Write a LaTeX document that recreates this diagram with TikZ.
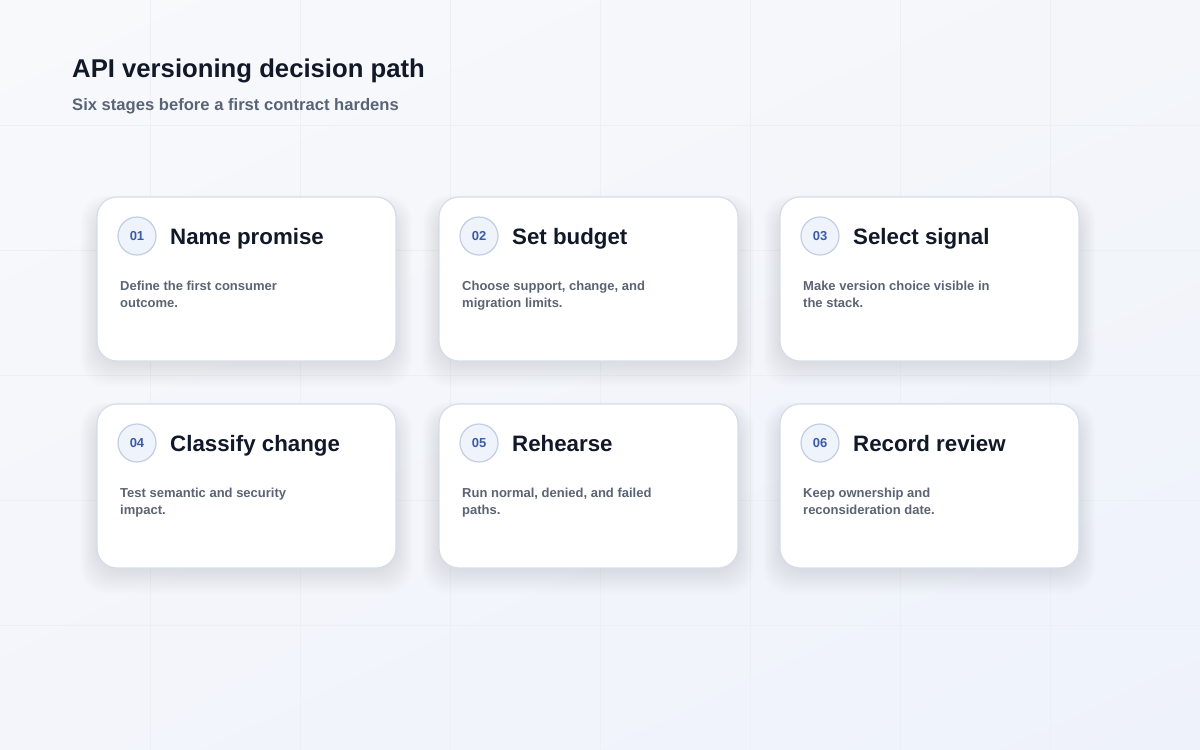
\documentclass[tikz,border=0pt]{standalone}
\usepackage{fontspec}
\setmainfont{Liberation Sans}
\usetikzlibrary{positioning,shadings}
\definecolor{bgtl}{HTML}{F8F9FB}
\definecolor{bgtr}{HTML}{F4F6FA}
\definecolor{bgbl}{HTML}{F3F5FB}
\definecolor{bgbr}{HTML}{EEF2FB}
\definecolor{gridc}{HTML}{ECEFF4}
\definecolor{titletext}{HTML}{111827}
\definecolor{subtext}{HTML}{5A6477}
\definecolor{cardline}{HTML}{D5DDEA}
\definecolor{shadowc}{HTML}{2A3550}
\definecolor{badgefill}{HTML}{EEF3FC}
\definecolor{badgeline}{HTML}{C2CEE3}
\definecolor{badgetext}{HTML}{3B5BA9}
\definecolor{desctext}{HTML}{5B6474}
\tikzset{
  card/.style={draw=cardline, line width=1.2pt, fill=white, rounded corners=20pt,
    minimum width=299pt, minimum height=164pt, inner sep=0pt},
  badge/.style={circle, draw=badgeline, line width=1.2pt, fill=badgefill,
    minimum size=38pt, inner sep=0pt, text=badgetext,
    font=\bfseries\fontsize{13}{13}\selectfont},
  head/.style={anchor=base west, inner sep=0pt, text=titletext,
    font=\bfseries\fontsize{22.3}{26}\selectfont},
  desc/.style={anchor=north west, inner sep=0pt, align=left, text=desctext,
    font=\bfseries\fontsize{13}{17}\selectfont},
  gridline/.style={draw=gridc, line width=0.7pt}
}
\begin{document}
\begin{tikzpicture}[x=1pt,y=-1pt]
        \useasboundingbox (0,0) rectangle (1200,750);
        %% background
        \shade[upper left=bgtl, upper right=bgtr, lower left=bgbl, lower right=bgbr]
          (0,0) rectangle (1200,750);
        \foreach \gx in {150,300,...,1050} \draw[gridline] (\gx,0) -- (\gx,750);
        \foreach \gy in {125,250,...,625} \draw[gridline] (0,\gy) -- (1200,\gy);
        %% heading
        \node[anchor=base west, inner sep=0pt, text=titletext,
          font=\bfseries\fontsize{25.7}{30}\selectfont] (title) at (72,77)
          {API versioning decision path};
        \node[anchor=base west, inner sep=0pt, text=subtext,
          font=\bfseries\fontsize{16.6}{20}\selectfont] (subtitle) at (72,110)
          {Six stages before a first contract hardens};
        %% cards
        \foreach \i/\x/\y/\nr/\heading/\lineA/\lineB in {
          1/97/197/01/Name promise/Define the first consumer/outcome.,
          2/439/197/02/Set budget/{Choose support, change, and}/migration limits.,
          3/780/197/03/Select signal/Make version choice visible in/the stack.,
          4/97/404/04/Classify change/Test semantic and security/impact.,
          5/439/404/05/Rehearse/{Run normal, denied, and failed}/paths.,
          6/780/404/06/Record review/Keep ownership and/reconsideration date.}
        {
          \foreach \s in {1,...,24}
            \fill[shadowc, opacity=0.0042, rounded corners=26pt]
              (\x-\s*0.7,\y+12-\s*0.6) rectangle (\x+299+\s*0.7,\y+164+2+\s);
          \node[card] (card\i) at (\x+149.5,\y+82) {};
          \node[badge] (badge\i) at (\x+40,\y+39) {\nr};
          \node[head] (head\i) at (\x+73,\y+47) {\heading};
          \node[desc] (desc\i) at (\x+23,\y+83.5) {\lineA\\\lineB};
        }
    \end{tikzpicture}
\end{document}
